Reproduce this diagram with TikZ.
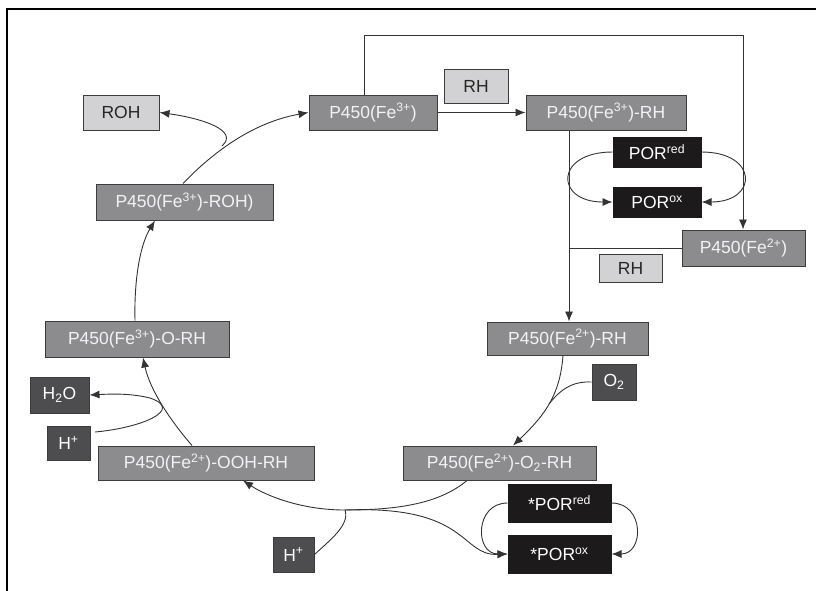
\documentclass[tikz,border=0pt]{standalone}
\usepackage{fontspec}
\setmainfont{Liberation Sans}
\usetikzlibrary{arrows.meta}
\definecolor{boxgray}{HTML}{8C8C8F}
\definecolor{boxline}{HTML}{3C3C3C}
\definecolor{lightfill}{HTML}{D2D2D4}
\definecolor{darkfill}{HTML}{4D4D4F}
\definecolor{blackfill}{HTML}{1C1A1A}
\definecolor{paletext}{HTML}{F2F2F6}
\definecolor{linecol}{HTML}{333333}
\tikzset{
  base/.style={draw=boxline, line width=1pt, inner sep=0pt, font=\fontsize{17.5}{19}\selectfont},
  midbox/.style={base, fill=boxgray, text=paletext},
  lightbox/.style={base, fill=lightfill, text=black!85},
  darkbox/.style={base, fill=darkfill, text=white},
  blackbox/.style={base, draw=blackfill, fill=blackfill, text=white},
  conn/.style={draw=linecol, line width=0.9pt},
  arr/.style={conn, -{Latex[length=10pt,width=8pt]}},
}
\newcommand{\sps}[1]{\textsuperscript{#1}}
\newcommand{\sbs}[1]{\textsubscript{#1}}
\begin{document}
\begin{tikzpicture}[x=1pt,y=-1pt]
\useasboundingbox (0,0) rectangle (816,590);
% frame
\draw[line width=2.5pt, black] (7,591) -- (7,9) -- (817,9);

% nodes
\node[midbox, minimum width=128, minimum height=35] (fe3) at (373,112.5) {P450(Fe\sps{3+})};
\node[lightbox, minimum width=64, minimum height=34] (rh1) at (476,86) {RH};
\node[midbox, minimum width=160, minimum height=35] (fe3rh) at (606,112.5) {P450(Fe\sps{3+})-RH};
\node[blackbox, minimum width=88, minimum height=30] (porred) at (657,152) {POR\sps{red}};
\node[blackbox, minimum width=88, minimum height=30] (porox) at (657,202) {POR\sps{ox}};
\node[midbox, minimum width=123, minimum height=36] (fe2) at (743.5,248) {P450(Fe\sps{2+})};
\node[lightbox, minimum width=63, minimum height=28] (rh2) at (630.5,268) {RH};
\node[midbox, minimum width=161, minimum height=33] (fe2rh) at (567.5,338.5) {P450(Fe\sps{2+})-RH};
\node[darkbox, minimum width=44, minimum height=36] (o2) at (614,382) {O\sbs{2}};
\node[midbox, minimum width=193, minimum height=34] (fe2o2) at (499.5,463) {P450(Fe\sps{2+})-O\sbs{2}-RH};
\node[blackbox, minimum width=103, minimum height=38] (sporred) at (559.5,503) {*POR\sps{red}};
\node[blackbox, minimum width=103, minimum height=38] (sporox) at (559.5,554) {*POR\sps{ox}};
\node[darkbox, minimum width=41, minimum height=35] (hp2) at (293.5,554.5) {H\sps{+}};
\node[midbox, minimum width=216, minimum height=34] (ooh) at (206,463) {P450(Fe\sps{2+})-OOH-RH};
\node[darkbox, minimum width=59, minimum height=36] (h2o) at (59.5,395) {H\sbs{2}O};
\node[darkbox, minimum width=43, minimum height=34] (hp1) at (68.5,443) {H\sps{+}};
\node[midbox, minimum width=184, minimum height=36] (orh) at (137,339) {P450(Fe\sps{3+})-O-RH};
\node[midbox, minimum width=177, minimum height=36] (roh3) at (184.5,202) {P450(Fe\sps{3+})-ROH)};
\node[lightbox, minimum width=76, minimum height=35] (roh) at (121,112.5) {ROH};

% coordinates for junctions
\coordinate (topL) at (364,35);
\coordinate (topR) at (743,35);
\coordinate (vj) at (569,248);
\coordinate (j1) at (345,510);
\coordinate (j2) at (222,146);
\coordinate (jo) at (549,404);

% top row
\draw[arr] (fe3.east) -- (fe3rh.west);
\draw[arr] (fe3.north -| topL) -- (topL) -- (topR) -- (fe2.north -| topR);
\draw[arr] (fe3rh.south -| vj) -- (fe2rh.north -| vj);
\draw[conn] (vj) -- (fe2.west);

% POR loop
\draw[arr] (porred.west) .. controls +(-58,0) and +(-58,0) .. (porox.west);
\draw[arr] (porred.east) .. controls +(57,0) and +(57,0) .. (porox.east);

% Fe2-RH -> Fe2-O2-RH
\draw[arr] (fe2rh.south -| 563,0) .. controls (560,395) and (545,415) .. (fe2o2.north -| 513,0);
\draw[conn] (o2.west) .. controls (572,381) and (560,390) .. (jo);

% Fe2-O2-RH -> OOH
\draw[conn] (fe2o2.south -| 467,0) .. controls (440,503) and (400,510) .. (j1);
\draw[arr] (j1) .. controls (300,510) and (265,495) .. (ooh.south -| 243,0);
\draw[conn] (hp2.east) .. controls (330,540) and (350,525) .. (j1);
\draw[arr] (j1) .. controls (470,505) and (460,556) .. (sporox.west);

% *POR loop
\draw[arr] (sporred.west) .. controls +(-33,0) and +(-33,0) .. (sporox.west);
\draw[arr] (sporred.east) .. controls +(33,0) and +(33,0) .. (sporox.east);

% OOH -> O-RH
\draw[arr] (ooh.north -| 192,0) .. controls (170,420) and (150,390) .. (orh.south -| 143,0);
\draw[arr] (95,432) .. controls (140,428) and (185,410) .. (150,398) .. controls (130,393) and (110,394) .. (h2o.east);

% O-RH -> ROH-complex
\draw[arr] (orh.north -| 135,0) .. controls (134,280) and (140,245) .. (roh3.south -| 155,0);

% ROH-complex -> Fe3
\draw[arr] (roh3.north -| 183,0) .. controls (215,150) and (255,122) .. (fe3.west);
\draw[arr] (j2) .. controls (240,130) and (200,118) .. (roh.east);
\end{tikzpicture}
\end{document}
